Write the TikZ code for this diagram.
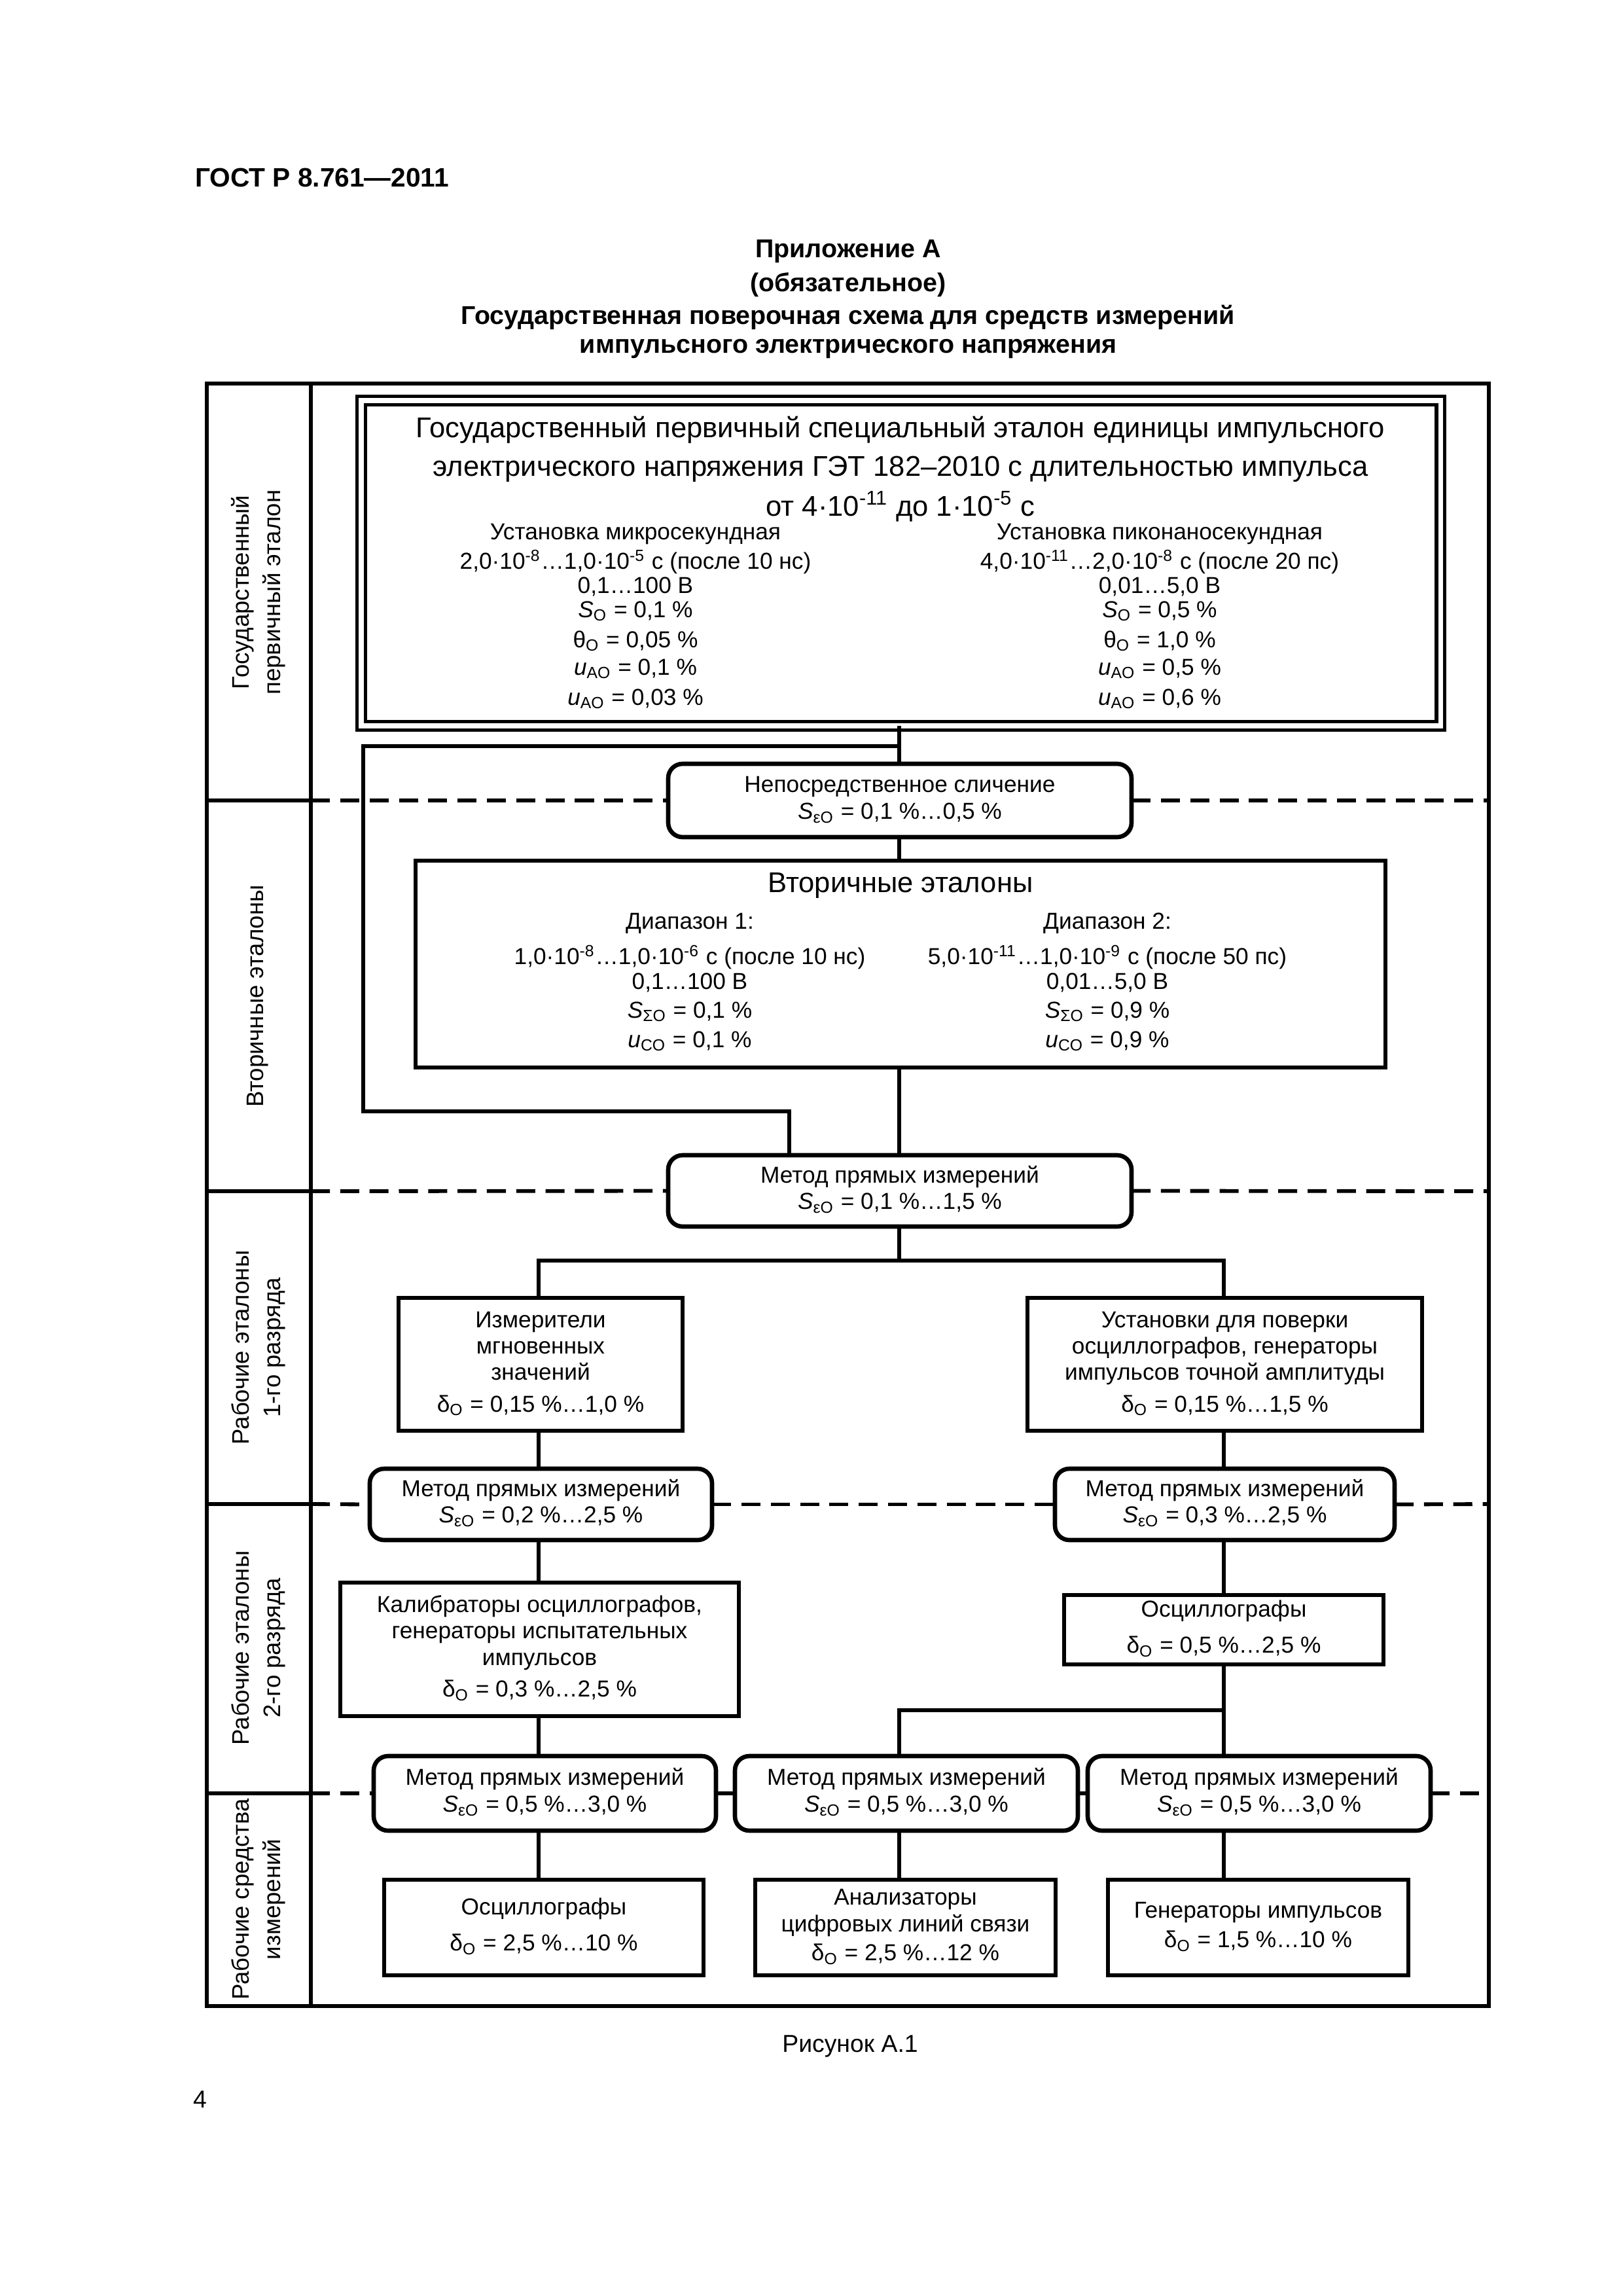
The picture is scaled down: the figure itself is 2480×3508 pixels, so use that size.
\documentclass[tikz,border=0pt]{standalone}
\usepackage{fontspec}
\setmainfont{Liberation Sans}
\usetikzlibrary{fit}
\newcommand{\mysb}[1]{\textsubscript{#1}}
\newcommand{\mysp}[1]{\textsuperscript{#1}}
\newcommand{\bxt}[1]{\begin{tabular}{@{}c@{}}#1\end{tabular}}
\begin{document}
\begin{tikzpicture}[x=0.0846667mm, y=-0.0846667mm,
  every node/.style={inner sep=0pt, outer sep=0pt},
  fr/.style={line width=1.6pt},
  conn/.style={line width=1.6pt},
  sepd/.style={line width=1.4pt, dash pattern=on 7pt off 3.8pt},
  seps/.style={line width=1.6pt},
  sz/.style 2 args={minimum width=#1*0.2409pt, minimum height=#2*0.2409pt},
  box/.style={draw, line width=1.6pt, rectangle, font=\fontsize{8.5}{9.7}\selectfont},
  rbox/.style={box, rounded corners=5.3pt},
  dbox/.style={draw, line width=1.4pt, double, double distance=1.7pt},
  ln/.style={anchor=base, font=\fontsize{8.5}{10}\selectfont},
  big/.style={anchor=base, font=\fontsize{10.5}{12}\selectfont},
  hd/.style={anchor=base, font=\bfseries\fontsize{9.5}{12}\selectfont},
  lab/.style={rotate=90, align=center, font=\fontsize{8.8}{11.5}\selectfont},
]
\useasboundingbox (0,0) rectangle (2480,3508);

% header
\node[hd, anchor=base west, font=\bfseries\fontsize{9.8}{12}\selectfont] (gost) at (298,285) {ГОСТ Р 8.761—2011};
\node[hd] (app) at (1296,393) {Приложение А};
\node[hd] (obl) at (1296,445) {(обязательное)};
\node[hd] (tt1) at (1296,495) {Государственная поверочная схема для средств измерений};
\node[hd] (tt2) at (1296,539) {импульсного электрического напряжения};

% frame
\draw[fr] (316,586) rectangle (2275,3065);
\draw[fr] (475,586) -- (475,3065);

% left labels
\node[lab] (l1) at (395,905) {Государственный\\первичный эталон};
\node[lab] (l2) at (394,1522) {Вторичные эталоны};
\node[lab] (l3) at (395,2059) {Рабочие эталоны\\1-го разряда};
\node[lab] (l4) at (395,2518) {Рабочие эталоны\\2-го разряда};
\node[lab] (l5) at (395,2902) {Рабочие средства\\измерений};

% primary standard
\node[dbox, fit={(552,612) (2201,1109)}] (get) {};
\node[big] (g1) at (1376,668) {Государственный первичный специальный эталон единицы импульсного};
\node[big] (g2) at (1376,727) {электрического напряжения ГЭТ 182–2010 с длительностью импульса};
\node[big] (g3) at (1376,788) {от 4·10\mysp{-11} до 1·10\mysp{-5} с};

\node[ln] (a1) at (971,824) {Установка микросекундная};
\node[ln] (a2) at (971,869) {2,0·10\mysp{-8}…1,0·10\mysp{-5} с (после 10 нс)};
\node[ln] (a3) at (971,906) {0,1…100 В};
\node[ln] (a4) at (971,943) {\textit{S}\mysb{O} = 0,1 \%};
\node[ln] (a5) at (971,989) {θ\mysb{O} = 0,05 \%};
\node[ln] (a6) at (971,1031) {\textit{u}\mysb{AO} = 0,1 \%};
\node[ln] (a7) at (971,1077) {\textit{u}\mysb{AO} = 0,03 \%};

\node[ln] (b1) at (1772,824) {Установка пиконаносекундная};
\node[ln] (b2) at (1772,869) {4,0·10\mysp{-11}…2,0·10\mysp{-8} с (после 20 пс)};
\node[ln] (b3) at (1772,906) {0,01…5,0 В};
\node[ln] (b4) at (1772,943) {\textit{S}\mysb{O} = 0,5 \%};
\node[ln] (b5) at (1772,989) {θ\mysb{O} = 1,0 \%};
\node[ln] (b6) at (1772,1031) {\textit{u}\mysb{AO} = 0,5 \%};
\node[ln] (b7) at (1772,1077) {\textit{u}\mysb{AO} = 0,6 \%};

% direct comparison
\node[rbox, sz={708}{112}] (nsl) at (1375,1223) {\bxt{Непосредственное сличение\\\textit{S}\mysb{εO} = 0,1 \%…0,5 \%}};

% secondary standards
\node[box, fit={(635,1315) (2117,1631)}] (vt) {};
\node[big] (v0) at (1376,1363) {Вторичные эталоны};
\node[ln] (c1) at (1054,1419) {Диапазон 1:};
\node[ln] (c2) at (1054,1473) {1,0·10\mysp{-8}…1,0·10\mysp{-6} с (после 10 нс)};
\node[ln] (c3) at (1054,1511) {0,1…100 В};
\node[ln] (c4) at (1054,1555) {\textit{S}\mysb{ΣO} = 0,1 \%};
\node[ln] (c5) at (1054,1600) {\textit{u}\mysb{CO} = 0,1 \%};
\node[ln] (d1) at (1692,1419) {Диапазон 2:};
\node[ln] (d2) at (1692,1473) {5,0·10\mysp{-11}…1,0·10\mysp{-9} с (после 50 пс)};
\node[ln] (d3) at (1692,1511) {0,01…5,0 В};
\node[ln] (d4) at (1692,1555) {\textit{S}\mysb{ΣO} = 0,9 \%};
\node[ln] (d5) at (1692,1600) {\textit{u}\mysb{CO} = 0,9 \%};

% method boxes and working standards
\node[rbox, sz={708}{109}] (m1) at (1375,1819.5) {\bxt{Метод прямых измерений\\\textit{S}\mysb{εO} = 0,1 \%…1,5 \%}};
\node[box, sz={434}{203}] (izm) at (826,2084.5) {\bxt{Измерители\\мгновенных\\значений\\[2pt]δ\mysb{O} = 0,15 \%…1,0 \%}};
\node[box, sz={603}{203}] (ust) at (1871.5,2084.5) {\bxt{Установки для поверки\\осциллографов, генераторы\\импульсов точной амплитуды\\[2pt]δ\mysb{O} = 0,15 \%…1,5 \%}};
\node[rbox, sz={523}{109}] (m2a) at (826.5,2298.5) {\bxt{Метод прямых измерений\\\textit{S}\mysb{εO} = 0,2 \%…2,5 \%}};
\node[rbox, sz={519}{109}] (m2b) at (1871.5,2298.5) {\bxt{Метод прямых измерений\\\textit{S}\mysb{εO} = 0,3 \%…2,5 \%}};
\node[box, sz={609}{204}] (kal) at (824.5,2520) {\bxt{Калибраторы осциллографов,\\генераторы испытательных\\импульсов\\[2pt]δ\mysb{O} = 0,3 \%…2,5 \%}};
\node[box, sz={488}{106}] (osc2) at (1870,2490) {\bxt{Осциллографы\\[3.4pt]δ\mysb{O} = 0,5 \%…2,5 \%}};
\node[rbox, sz={523}{114}] (m3a) at (832.5,2740) {\bxt{Метод прямых измерений\\\textit{S}\mysb{εO} = 0,5 \%…3,0 \%}};
\node[rbox, sz={524}{114}] (m3b) at (1385,2740) {\bxt{Метод прямых измерений\\\textit{S}\mysb{εO} = 0,5 \%…3,0 \%}};
\node[rbox, sz={524}{114}] (m3c) at (1924,2740) {\bxt{Метод прямых измерений\\\textit{S}\mysb{εO} = 0,5 \%…3,0 \%}};
\node[box, sz={488}{146}] (osc3) at (831,2945) {\bxt{Осциллографы\\[3.6pt]δ\mysb{O} = 2,5 \%…10 \%}};
\node[box, sz={459}{146}] (anl) at (1383.5,2945) {\bxt{Анализаторы\\цифровых линий связи\\[1pt]δ\mysb{O} = 2,5 \%…12 \%}};
\node[box, sz={459}{146}] (gen) at (1922.5,2945) {\bxt{Генераторы импульсов\\[1.2pt]δ\mysb{O} = 1,5 \%…10 \%}};

% separators
\draw[seps] (316,1223) -- (475,1223);
\draw[seps] (316,1820) -- (475,1820);
\draw[seps] (316,2298) -- (475,2298);
\draw[seps] (316,2740) -- (475,2740);
\draw[sepd] (475,1223) -- (nsl.west);
\draw[sepd] (nsl.east) -- (2275,1223);
\draw[sepd] (475,1820) -- (m1.west);
\draw[sepd] (m1.east) -- (2275,1820);
\draw[sepd] (475,2298) -- (m2a.west);
\draw[sepd] (m2a.east) -- (m2b.west);
\draw[sepd] (m2b.east) -- (2275,2298);
\draw[sepd] (475,2740) -- (m3a.west);
\draw[sepd] (m3a.east) -- (m3b.west);
\draw[sepd] (m3b.east) -- (m3c.west);
\draw[sepd] (m3c.east) -- (2275,2740);

% connectors
\coordinate (jA) at (1374,1140);
\coordinate (bA) at (555,1140);
\coordinate (bB) at (555,1698);
\coordinate (bC) at (1206,1698);
\coordinate (jB) at (823,1926);
\coordinate (jC) at (1870,1926);
\coordinate (jD) at (1374,2613);
\coordinate (jE) at (1870,2613);
\coordinate (xk) at (823,2622);

\draw[conn] (jA |- get.south) -- (jA |- nsl.north);
\draw[conn] (jA) -- (bA) -- (bB) -- (bC) -- (bC |- m1.north);
\draw[conn] (jA |- nsl.south) -- (jA |- vt.north);
\draw[conn] (jA |- vt.south) -- (jA |- m1.north);
\draw[conn] (jA |- m1.south) -- (jA |- jB);
\draw[conn] (jB |- izm.north) -- (jB) -- (jC) -- (jC |- ust.north);
\draw[conn] (jB |- izm.south) -- (jB |- m2a.north);
\draw[conn] (jC |- ust.south) -- (jC |- m2b.north);
\draw[conn] (jB |- m2a.south) -- (jB |- kal.north);
\draw[conn] (jC |- m2b.south) -- (jC |- osc2.north);
\draw[conn] (xk |- kal.south) -- (xk |- m3a.north);
\draw[conn] (jE |- osc2.south) -- (jE |- m3c.north);
\draw[conn] (jE) -- (jD) -- (jD |- m3b.north);
\draw[conn] (xk |- m3a.south) -- (xk |- osc3.north);
\draw[conn] (jD |- m3b.south) -- (jD |- anl.north);
\draw[conn] (jE |- m3c.south) -- (jE |- gen.north);

% caption
\node[anchor=base, font=\fontsize{9}{11}\selectfont] (cap) at (1299,3135) {Рисунок А.1};
\node[anchor=base west, font=\fontsize{9}{11}\selectfont] (pg) at (295,3220) {4};
\end{tikzpicture}
\end{document}
